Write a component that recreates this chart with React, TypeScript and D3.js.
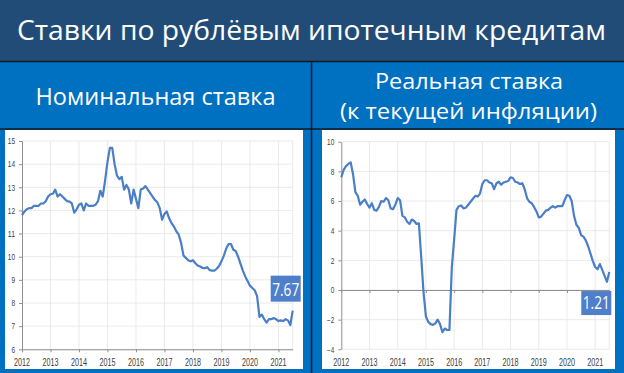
import { useEffect, useRef } from "react";
import * as d3 from "d3";

const startYear = 2012;
const endYear = 2021.5;
const yearLabels = [2012, 2013, 2014, 2015, 2016, 2017, 2018, 2019, 2020, 2021];
const nominalTicks = [6, 7, 8, 9, 10, 11, 12, 13, 14, 15];
const realTicks = [-4, -2, 0, 2, 4, 6, 8, 10];

// monthly, Jan 2012 .. Jul 2021
const nominalRate = [
  11.8, 11.95, 12.05, 12.1, 12.1, 12.2, 12.2, 12.2, 12.3, 12.3, 12.4, 12.6,
  12.7, 12.72, 12.9, 12.6, 12.7, 12.6, 12.5, 12.4, 12.38, 12.3, 11.9, 12.05,
  12.25, 12.3, 12.0, 12.3, 12.2, 12.2, 12.2, 12.25, 12.4, 12.85, 12.6, 13.3,
  14.1, 14.7, 14.7, 14.0, 13.5, 13.35, 13.45, 12.9, 13.1, 12.9, 12.3, 12.9,
  12.5, 12.1, 12.9, 12.95, 13.05, 12.9, 12.75, 12.6, 12.45, 12.35, 12.1, 11.6,
  11.85, 11.95, 11.65, 11.45, 11.3, 11.1, 10.95, 10.6, 10.05, 9.95, 9.85, 9.8,
  9.85, 9.72, 9.62, 9.58, 9.52, 9.5, 9.55, 9.42, 9.4, 9.4, 9.48, 9.6,
  9.8, 10.05, 10.35, 10.55, 10.55, 10.3, 10.25, 10.0, 9.7, 9.4, 9.15, 8.95,
  8.75, 8.65, 8.55, 8.3, 7.4, 7.5, 7.3, 7.15, 7.3, 7.3, 7.35, 7.3,
  7.22, 7.25, 7.22, 7.3, 7.25, 7.05, 7.67,
];

const realRate = [
  7.6, 8.1, 8.35, 8.5, 8.6, 7.8, 6.6, 6.35, 5.75, 5.95, 6.1, 5.8,
  5.55, 5.85, 5.4, 5.35, 5.6, 6.0, 5.95, 6.2, 6.05, 5.5, 5.45, 5.75,
  6.2, 6.05, 5.0, 4.9, 4.6, 4.45, 4.75, 4.65, 4.45, 4.5, 2.2, -0.2,
  -1.8, -2.15, -2.3, -2.35, -2.25, -2.0, -2.3, -2.85, -2.6, -2.7, -2.7, 1.5,
  3.4, 5.4, 5.65, 5.7, 5.5, 5.55, 5.75, 5.95, 6.15, 6.35, 6.3, 6.5,
  7.15, 7.4, 7.4, 7.25, 7.2, 6.8, 7.2, 7.3, 7.1, 7.25, 7.3, 7.35,
  7.6, 7.55, 7.3, 7.25, 7.15, 7.2, 6.8, 6.2, 5.95, 5.85, 5.6, 5.3,
  4.9, 4.95, 5.15, 5.35, 5.4, 5.55, 5.65, 5.55, 5.65, 5.65, 5.65, 6.05,
  6.4, 6.35, 6.0, 5.0, 4.4, 4.2, 3.7, 3.6, 3.35, 2.95, 2.45, 1.95,
  1.55, 1.4, 1.75, 1.35, 0.95, 0.55, 1.21,
];

const LINE = "#4a7ec7";
const BADGE = "#4f7fca";

interface ChartProps {
  data: number[];
  yTicks: number[];
  left: number;
  right: number;
  top: number;
  bottom: number;
  baseline: number;
  badgeAbove: boolean;
}

const Chart: React.FC<ChartProps> = ({ data, yTicks, left, right, top, bottom, baseline, badgeAbove }) => {
  const ref = useRef<SVGGElement>(null);

  useEffect(() => {
    const g = d3.select(ref.current).html("");
    const x = d3.scaleLinear().domain([startYear, endYear]).range([left, right]);
    const y = d3
      .scaleLinear()
      .domain([yTicks[0], yTicks[yTicks.length - 1]])
      .range([bottom, top]);

    // gridlines
    g.append("g")
      .selectAll("line")
      .data(yTicks)
      .join("line")
      .attr("x1", left)
      .attr("x2", right)
      .attr("y1", (d) => y(d))
      .attr("y2", (d) => y(d))
      .attr("stroke", "#e4e4e4")
      .attr("stroke-width", 0.8);

    g.append("g")
      .selectAll("line")
      .data([...yearLabels.slice(1), endYear])
      .join("line")
      .attr("x1", (d) => x(d))
      .attr("x2", (d) => x(d))
      .attr("y1", top)
      .attr("y2", bottom)
      .attr("stroke", "#e4e4e4")
      .attr("stroke-width", 0.8);

    // horizontal axis (at baseline), no labels
    const xAxis = g
      .append("g")
      .attr("transform", `translate(0,${y(baseline)})`)
      .call(d3.axisBottom(x).tickValues(yearLabels).tickSize(3).tickSizeOuter(0).tickFormat(() => ""));
    xAxis.select(".domain").attr("stroke", "#8f8f8f");
    xAxis.selectAll(".tick line").attr("stroke", "#8f8f8f");

    // vertical axis
    const yAxis = g
      .append("g")
      .attr("transform", `translate(${left},0)`)
      .call(d3.axisLeft(y).tickValues(yTicks).tickSize(3).tickSizeOuter(0).tickPadding(4));
    yAxis.select(".domain").attr("stroke", "#8f8f8f");
    yAxis.selectAll(".tick line").attr("stroke", "#8f8f8f");
    yAxis
      .selectAll<SVGTextElement, number>(".tick text")
      .attr("font-family", "Liberation Sans, Arial, sans-serif")
      .attr("font-size", 8.5)
      .attr("fill", "#404040")
      .attr("textLength", (d) => String(d).length * 3.6)
      .attr("lengthAdjust", "spacingAndGlyphs");

    // year labels at the bottom
    g.append("g")
      .selectAll("text")
      .data(yearLabels)
      .join("text")
      .attr("x", (d) => x(d))
      .attr("y", bottom + 16.5)
      .attr("text-anchor", "middle")
      .attr("font-family", "Liberation Sans, Arial, sans-serif")
      .attr("font-size", 10)
      .attr("fill", "#404040")
      .attr("textLength", 16)
      .attr("lengthAdjust", "spacingAndGlyphs")
      .text((d) => d);

    // series line
    const line = d3
      .line<number>()
      .x((_, i) => x(startYear + i / 12))
      .y((d) => y(d))
      .curve(d3.curveLinear);

    g.append("path")
      .datum(data)
      .attr("d", line)
      .attr("fill", "none")
      .attr("stroke", LINE)
      .attr("stroke-width", 2.2)
      .attr("stroke-linejoin", "round");

    // last value badge
    const last = data[data.length - 1];
    const lx = x(startYear + (data.length - 1) / 12);
    const ly = y(last);
    const bw = 30;
    const bh = 24;
    const bx = badgeAbove ? lx - 22 : lx - 28;
    const by = badgeAbove ? ly - 35 : ly + 19;
    g.append("rect")
      .attr("x", bx)
      .attr("y", by)
      .attr("width", bw)
      .attr("height", bh + (badgeAbove ? 2 : 0))
      .attr("fill", BADGE);
    g.append("text")
      .attr("x", bx + bw / 2)
      .attr("y", by + (badgeAbove ? 20.5 : 17.5))
      .attr("text-anchor", "middle")
      .attr("font-family", "Open Sans, sans-serif")
      .attr("font-size", 17.5)
      .attr("fill", "#ffffff")
      .attr("textLength", 27)
      .attr("lengthAdjust", "spacingAndGlyphs")
      .text(d3.format(".2f")(last));
  }, [data, yTicks, left, right, top, bottom, baseline, badgeAbove]);

  return <g ref={ref} />;
};

export default function App() {
  return (
    <svg
      width={624}
      height={373}
      style={{ position: "absolute", left: 0, top: 0 }}
      fontFamily="Open Sans, sans-serif"
    >
      <rect width={624} height={373} fill="#0070c0" />
      <rect width={624} height={61} fill="#214c78" />
      <rect x={5} y={130} width={298} height={239} fill="#ffffff" />
      <rect x={322} y={130} width={293} height={239} fill="#ffffff" />
      <line x1={0} x2={624} y1={61.5} y2={61.5} stroke="#101820" strokeWidth={1.5} />
      <line x1={0} x2={624} y1={129} y2={129} stroke="#101820" strokeWidth={1.5} />
      <line x1={311.5} x2={311.5} y1={61} y2={373} stroke="#101820" strokeWidth={1.5} />

      <text x={311.5} y={40} textAnchor="middle" fontSize={27} fill="#ffffff" textLength={589} lengthAdjust="spacingAndGlyphs">
        Ставки по рублёвым ипотечным кредитам
      </text>
      <text x={155.5} y={105} textAnchor="middle" fontSize={24} fill="#ffffff" textLength={240} lengthAdjust="spacingAndGlyphs">
        Номинальная ставка
      </text>
      <text x={469} y={88.5} textAnchor="middle" fontSize={22} fill="#ffffff" textLength={188} lengthAdjust="spacingAndGlyphs">
        Реальная ставка
      </text>
      <text x={468.5} y={118.5} textAnchor="middle" fontSize={22} fill="#ffffff" textLength={257} lengthAdjust="spacingAndGlyphs">
        (к текущей инфляции)
      </text>

      <Chart data={nominalRate} yTicks={nominalTicks} left={22} right={292.7} top={141} bottom={349.3} baseline={6} badgeAbove={true} />
      <Chart data={realRate} yTicks={realTicks} left={341.3} right={609.3} top={141.7} bottom={349.3} baseline={0} badgeAbove={false} />
    </svg>
  );
}
